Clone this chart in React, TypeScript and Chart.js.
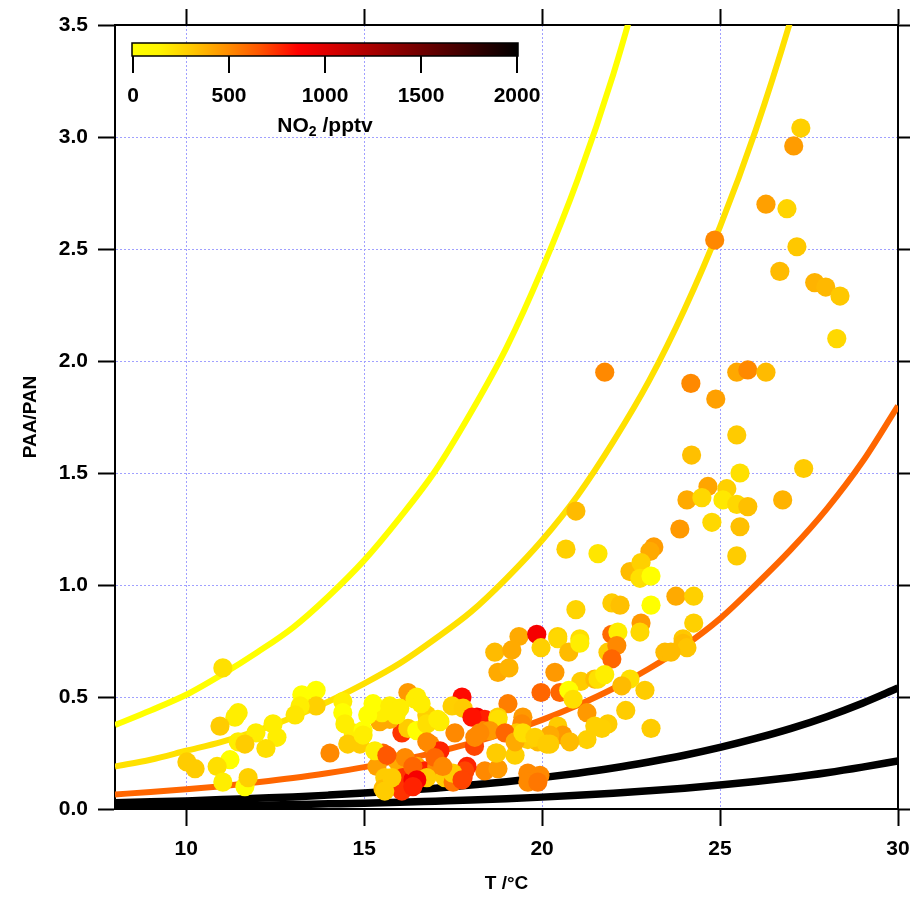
import React, { useEffect, useRef } from "react";
import { Chart, registerables } from "chart.js";
Chart.register(...registerables);

// ---------- data ----------
const T = [
  27.27, 27.07, 26.29, 26.88, 24.85, 27.16, 26.68, 27.66, 27.97, 28.37,
  28.28, 21.76, 24.18, 24.88, 25.47, 25.78, 26.29, 25.47, 24.2, 25.56,
  27.35, 24.66, 25.19, 24.07, 24.49, 25.08, 25.47, 25.78, 26.76, 24.77,
  25.56, 23.87, 20.95, 25.47, 20.67, 21.57, 23.14, 23.03, 22.47, 22.78,
  22.75, 23.06, 20.95, 21.96, 22.19, 23.06, 23.76, 24.26, 24.26, 22.78,
  20.44, 21.06, 21.96, 22.13, 22.75, 23.96, 23.96, 23.45, 24.07, 19.35,
  19.85, 20.44, 18.67, 19.15, 19.97, 20.75, 21.06, 21.85, 22.1, 21.96,
  18.76, 19.07, 20.36, 21.09, 21.48, 21.57, 21.76, 22.47, 22.24, 22.89,
  19.97, 20.5, 20.75, 20.87, 19.04, 17.75, 17.47, 18.17, 18.39, 18.76,
  19.46, 21.26, 22.35, 23.06, 21.85, 21.68, 21.48, 21.26, 20.44, 20.58,
  20.22, 20.78, 19.88, 20.22, 19.6, 19.43, 19.29, 18.76, 19.6, 19.94,
  18.39, 18.76, 18.1, 18.73, 19.24, 16.23, 16.48, 17.78, 15.44, 15.72,
  15.53, 16.06, 16.76, 17.13, 17.55, 16.85, 17.13, 18.11, 18.34, 18.53,
  18.96, 19.24, 19.46, 19.8, 20.13, 15.53, 15.36, 15.58, 15.53, 15.95,
  16.15, 16.09, 16.06, 16.37, 16.48, 16.71, 17.04, 17.27, 17.5, 17.78,
  17.89, 18.7, 19.6, 19.88, 14.88, 14.69, 14.97, 15.72, 11.03, 13.25,
  13.65, 13.65, 13.2, 13.06, 11.46, 11.37, 10.95, 12.44, 11.96, 12.55,
  11.46, 11.65, 12.24, 11.23, 10.87, 10.02, 10.25, 11.03, 11.65, 11.74,
  14.04, 14.54, 14.4, 14.4, 14.46, 14.97, 15.3, 15.5, 16.43, 16.23,
  16.48, 16.76, 17.07, 18.03, 18.25, 17.83, 17.49, 17.75, 15.64, 15.78,
  15.58, 16.37, 16.76, 16.99, 16.76, 17.21, 16.48, 16.37, 15.25, 15.72,
  15.1, 15.9, 16.0, 16.6, 23.62,
];
const PAA_PAN = [
  3.04, 2.96, 2.7, 2.68, 2.54, 2.51, 2.4, 2.35, 2.33, 2.29,
  2.1, 1.95, 1.9, 1.83, 1.95, 1.96, 1.95, 1.67, 1.58, 1.5,
  1.52, 1.44, 1.43, 1.38, 1.39, 1.38, 1.36, 1.35, 1.38, 1.28,
  1.26, 1.25, 1.33, 1.13, 1.16, 1.14, 1.17, 1.15, 1.06, 1.1,
  1.03, 1.04, 0.89, 0.92, 0.91, 0.91, 0.95, 0.95, 0.83, 0.83,
  0.77, 0.76, 0.78, 0.79, 0.79, 0.76, 0.74, 0.7, 0.72, 0.77,
  0.78, 0.76, 0.7, 0.71, 0.72, 0.7, 0.74, 0.7, 0.73, 0.67,
  0.61, 0.63, 0.61, 0.57, 0.58, 0.58, 0.6, 0.58, 0.55, 0.53,
  0.52, 0.52, 0.53, 0.49, 0.47, 0.5, 0.46, 0.41, 0.4, 0.41,
  0.41, 0.43, 0.44, 0.36, 0.38, 0.36, 0.37, 0.31, 0.37, 0.33,
  0.33, 0.3, 0.3, 0.29, 0.31, 0.38, 0.34, 0.4, 0.16, 0.15,
  0.17, 0.18, 0.28, 0.25, 0.24, 0.52, 0.5, 0.45, 0.39, 0.44,
  0.44, 0.34, 0.42, 0.39, 0.34, 0.29, 0.26, 0.32, 0.35, 0.35,
  0.34, 0.3, 0.34, 0.32, 0.29, 0.25, 0.19, 0.14, 0.09, 0.21,
  0.23, 0.14, 0.08, 0.13, 0.19, 0.17, 0.19, 0.14, 0.12, 0.14,
  0.19, 0.25, 0.12, 0.12, 0.29, 0.34, 0.35, 0.4, 0.63, 0.51,
  0.53, 0.46, 0.46, 0.42, 0.43, 0.41, 0.37, 0.38, 0.34, 0.32,
  0.3, 0.29, 0.27, 0.22, 0.19, 0.21, 0.18, 0.12, 0.1, 0.14,
  0.25, 0.29, 0.48, 0.43, 0.38, 0.33, 0.26, 0.43, 0.49, 0.36,
  0.35, 0.38, 0.4, 0.41, 0.34, 0.17, 0.16, 0.13, 0.24, 0.14,
  0.08, 0.19, 0.3, 0.23, 0.14, 0.19, 0.13, 0.1, 0.47, 0.46,
  0.42, 0.42, 0.45, 0.47, 0.7,
];
const NO2 = [
  280, 449, 437, 265, 512, 310, 351, 377, 360, 310,
  250, 510, 510, 437, 411, 510, 351, 300, 335, 219,
  300, 421, 280, 405, 250, 190, 250, 335, 377, 250,
  335, 459, 351, 295, 280, 197, 449, 405, 351, 280,
  219, 0, 265, 295, 335, 0, 405, 280, 280, 459,
  280, 225, 599, 166, 250, 310, 351, 351, 320, 405,
  900, 250, 351, 405, 280, 351, 166, 295, 510, 611,
  405, 377, 459, 295, 351, 219, 166, 225, 351, 295,
  611, 611, 0, 225, 540, 840, 280, 900, 784, 280,
  459, 459, 295, 295, 295, 280, 280, 280, 295, 459,
  405, 351, 351, 295, 295, 510, 295, 219, 510, 510,
  510, 459, 700, 295, 280, 459, 166, 295, 405, 166,
  0, 740, 280, 166, 510, 510, 780, 510, 510, 459,
  611, 405, 225, 280, 295, 611, 437, 295, 351, 405,
  510, 740, 740, 900, 405, 784, 510, 295, 561, 740,
  780, 295, 510, 561, 295, 166, 0, 405, 219, 0,
  0, 280, 166, 197, 166, 166, 295, 166, 166, 166,
  166, 295, 225, 0, 225, 295, 295, 166, 0, 280,
  510, 295, 166, 0, 166, 166, 166, 166, 166, 295,
  0, 225, 166, 820, 510, 700, 295, 700, 650, 295,
  295, 611, 510, 611, 295, 510, 900, 780, 0, 166,
  0, 166, 166, 166, 351,
];

// model curves (T = 8 ... 30 °C, step 1)
const CURVE_T = [8, 9, 10, 11, 12, 13, 14, 15, 16, 17, 18, 19, 20, 21, 22, 23, 24, 25, 26, 27, 28, 29, 30];
const CURVE_YELLOW = [0.375, 0.44, 0.51, 0.6, 0.7, 0.81, 0.95, 1.11, 1.3, 1.51, 1.77, 2.06, 2.41, 2.81, 3.28, 3.83];
const CURVE_GOLD = [0.19, 0.22, 0.26, 0.3, 0.35, 0.41, 0.48, 0.56, 0.65, 0.76, 0.88, 1.03, 1.2, 1.4, 1.64, 1.91, 2.23, 2.6, 3.03, 3.53, 4.1];
const CURVE_ORANGE = [0.065, 0.076, 0.088, 0.102, 0.119, 0.138, 0.161, 0.187, 0.218, 0.253, 0.294, 0.342, 0.398, 0.463, 0.538, 0.626, 0.728, 0.85, 1.0, 1.16, 1.34, 1.55, 1.8];
const CURVE_BLACK1 = [0.028, 0.032, 0.036, 0.042, 0.048, 0.054, 0.062, 0.071, 0.082, 0.093, 0.107, 0.122, 0.14, 0.16, 0.183, 0.21, 0.24, 0.275, 0.315, 0.36, 0.412, 0.472, 0.54];
const CURVE_BLACK2 = [0.01, 0.011, 0.013, 0.015, 0.017, 0.02, 0.023, 0.026, 0.03, 0.035, 0.04, 0.046, 0.053, 0.061, 0.07, 0.081, 0.093, 0.107, 0.123, 0.141, 0.162, 0.187, 0.215];
const CURVES = [CURVE_YELLOW, CURVE_GOLD, CURVE_ORANGE, CURVE_BLACK1, CURVE_BLACK2];
const CURVE_NO2 = [0, 215, 611, 2000, 2000];
const CURVE_WIDTH = [6, 6, 6, 7.5, 7.5];

const X_TICKS = [10, 15, 20, 25, 30];
const Y_TICKS = [0, 0.5, 1, 1.5, 2, 2.5, 3, 3.5];
const CBAR_TICKS = [0, 500, 1000, 1500, 2000];
const NO2_MAX = 2000;

// colour map (YellowHot-like)
const CMAP_POS = [0, 0.07, 0.155, 0.25, 0.33, 0.43, 1];
const CMAP_RGB = [
  [255, 255, 0], [255, 245, 0], [255, 200, 0], [255, 140, 0], [255, 85, 0], [255, 0, 0], [0, 0, 0],
];

function cmap(f: number): string {
  const t = Math.max(0, Math.min(1, f));
  for (let i = 1; i < CMAP_POS.length; i++) {
    if (t <= CMAP_POS[i]) {
      const a = CMAP_POS[i - 1], b = CMAP_POS[i];
      const u = (t - a) / (b - a);
      const c0 = CMAP_RGB[i - 1], c1 = CMAP_RGB[i];
      const r = Math.round(c0[0] + (c1[0] - c0[0]) * u);
      const g = Math.round(c0[1] + (c1[1] - c0[1]) * u);
      const bl = Math.round(c0[2] + (c1[2] - c0[2]) * u);
      return `rgb(${r},${g},${bl})`;
    }
  }
  return "rgb(0,0,0)";
}
const no2Color = (v: number) => cmap(v / NO2_MAX);

const FONT = "'Liberation Sans', Arial, Helvetica, sans-serif";
const GRID = "#a0a0ff";

const colorbarPlugin = {
  id: "colorbar",
  afterDraw(chart: any) {
    const { ctx, chartArea } = chart;
    const x0 = chartArea.left + 17;
    const x1 = chartArea.left + 403;
    const y0 = chartArea.top + 18;
    const y1 = chartArea.top + 31;
    ctx.save();
    const grad = ctx.createLinearGradient(x0, 0, x1, 0);
    CMAP_POS.forEach((p) => grad.addColorStop(p, cmap(p)));
    ctx.fillStyle = grad;
    ctx.fillRect(x0, y0, x1 - x0, y1 - y0);
    ctx.lineWidth = 1.5;
    ctx.strokeStyle = "#000";
    ctx.strokeRect(x0, y0, x1 - x0, y1 - y0);
    ctx.lineWidth = 2;
    ctx.fillStyle = "#000";
    ctx.font = `bold 21px ${FONT}`;
    ctx.textAlign = "center";
    ctx.textBaseline = "middle";
    CBAR_TICKS.forEach((v) => {
      const x = x0 + 1 + ((x1 - x0 - 2) * v) / NO2_MAX;
      ctx.beginPath();
      ctx.moveTo(x, y1);
      ctx.lineTo(x, y1 + 17);
      ctx.stroke();
      ctx.fillText(String(v), x, y1 + 40);
    });
    // NO2 /pptv label with subscript
    const big = `bold 21px ${FONT}`;
    const small = `bold 14px ${FONT}`;
    ctx.font = big;
    const wNO = ctx.measureText("NO").width;
    const wRest = ctx.measureText(" /pptv").width;
    ctx.font = small;
    const w2 = ctx.measureText("2").width;
    const total = wNO + w2 + wRest;
    const cx = (x0 + x1) / 2;
    const cy = y1 + 70;
    let x = cx - total / 2;
    ctx.textAlign = "left";
    ctx.font = big;
    ctx.fillText("NO", x, cy);
    x += wNO;
    ctx.font = small;
    ctx.fillText("2", x, cy + 6);
    x += w2;
    ctx.font = big;
    ctx.fillText(" /pptv", x, cy);
    ctx.restore();
  },
};

export default function App() {
  const ref = useRef<HTMLCanvasElement>(null);
  useEffect(() => {
    if (!ref.current) return;
    const scatter = {
      type: "scatter" as const,
      label: "PAA/PAN",
      data: T.map((t, i) => ({ x: t, y: PAA_PAN[i] })),
      pointRadius: 9.6,
      pointHoverRadius: 9.6,
      pointBorderWidth: 0,
      pointBackgroundColor: NO2.map(no2Color),
      borderColor: "rgba(0,0,0,0)",
      showLine: false,
      order: 0,
    };
    const curves = CURVES.map((c, k) => ({
      type: "scatter" as const,
      label: `curve${k}`,
      data: c.map((y, i) => ({ x: CURVE_T[i], y })),
      showLine: true,
      pointRadius: 0,
      borderColor: no2Color(CURVE_NO2[k]),
      backgroundColor: no2Color(CURVE_NO2[k]),
      borderWidth: CURVE_WIDTH[k],
      cubicInterpolationMode: "monotone" as const,
      clip: 0,
      order: 1 + k,
    }));
    const setTicks = (vals: number[]) => (s: any) => {
      s.ticks = vals.map((v) => ({ value: v }));
    };
    const noPadH = (h: number) => (s: any) => {
      s.height = h;
      s.paddingLeft = 0;
      s.paddingRight = 0;
    };
    const noPadV = (w: number) => (s: any) => {
      s.width = w;
      s.paddingTop = 0;
      s.paddingBottom = 0;
    };
    const tickFont = { family: FONT, size: 21, weight: "bold" as const };
    const chart = new Chart(ref.current, {
      type: "scatter",
      data: { datasets: [scatter as any, ...(curves as any)] },
      options: {
        responsive: false,
        animation: false,
        events: [],
        layout: { padding: 0 },
        plugins: { legend: { display: false }, tooltip: { enabled: false } },
        scales: {
          x: {
            type: "linear",
            position: "bottom",
            min: 8,
            max: 30,
            afterBuildTicks: setTicks(X_TICKS),
            afterFit: noPadH(95),
            grid: { color: GRID, lineWidth: 1, tickColor: "#000", tickWidth: 2, tickLength: 17 },
            border: { display: true, color: "#000", width: 2, dash: [2, 2] },
            ticks: { color: "#000", font: tickFont, padding: 11, maxRotation: 0, callback: (v: any) => String(v) },
            title: { display: true, text: "T /°C", color: "#000", font: { family: FONT, size: 19, weight: "bold" }, padding: { top: 0, bottom: 9 } },
          },
          x2: {
            type: "linear",
            position: "top",
            min: 8,
            max: 30,
            afterBuildTicks: setTicks(X_TICKS),
            afterFit: noPadH(25),
            grid: { drawOnChartArea: false, tickColor: "#000", tickWidth: 2, tickLength: 16 },
            border: { display: true, color: "#000", width: 2 },
            ticks: { display: false },
          },
          y: {
            type: "linear",
            position: "left",
            min: 0,
            max: 3.5,
            afterBuildTicks: setTicks(Y_TICKS),
            afterFit: noPadV(115),
            grid: { color: GRID, lineWidth: 1, tickColor: "#000", tickWidth: 2, tickLength: 17 },
            border: { display: true, color: "#000", width: 2, dash: [2, 2] },
            ticks: { color: "#000", font: tickFont, padding: 10, callback: (v: any) => Number(v).toFixed(1) },
            title: { display: true, text: "PAA/PAN", color: "#000", font: { family: FONT, size: 19, weight: "bold" }, padding: { top: 19, bottom: 0 } },
          },
          y2: {
            type: "linear",
            position: "right",
            min: 0,
            max: 3.5,
            afterBuildTicks: setTicks(Y_TICKS),
            afterFit: noPadV(15),
            grid: { drawOnChartArea: false, tickColor: "#000", tickWidth: 2, tickLength: 12 },
            border: { display: true, color: "#000", width: 2 },
            ticks: { display: false },
          },
        },
      },
      plugins: [colorbarPlugin],
    });
    return () => chart.destroy();
  }, []);
  return (
    <div style={{ position: "absolute", left: 0, top: 0, width: 913, height: 904, background: "#fff" }}>
      <canvas ref={ref} width={913} height={904} style={{ display: "block", width: 913, height: 904 }} />
    </div>
  );
}
